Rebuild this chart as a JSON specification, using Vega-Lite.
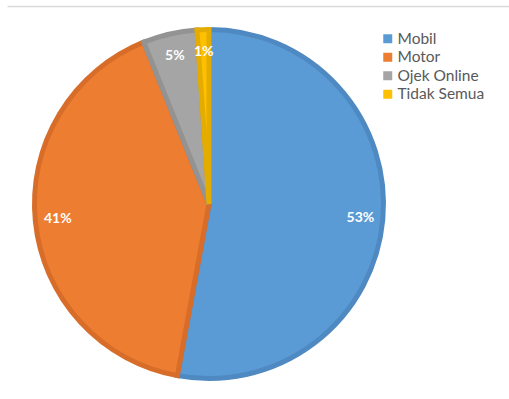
{
  "$schema": "https://vega.github.io/schema/vega-lite/v6.json",
  "width": 502,
  "height": 393,
  "padding": {"left": 7, "top": 6, "right": 0, "bottom": 0},
  "autosize": {"type": "none"},
  "background": "white",
  "config": {"view": {"stroke": null}},
  "data": {
    "values": [
      {"cat": "Mobil", "value": 52.9, "label": "53%"},
      {"cat": "Motor", "value": 41.0, "label": "41%"},
      {"cat": "Ojek Online", "value": 5.0, "label": "5%"},
      {"cat": "Tidak Semua", "value": 1.1, "label": "1%"}
    ]
  },
  "encoding": {
    "theta": {"field": "value", "type": "quantitative", "stack": true},
    "order": {"field": "cat", "type": "ordinal"},
    "x": {
      "datum": 202,
      "type": "quantitative",
      "scale": {"domain": [0, 502], "nice": false, "zero": false},
      "axis": {"orient": "top", "domainColor": "#d9d9d9", "domainWidth": 1.5, "ticks": false, "labels": false, "grid": false, "title": null}
    },
    "y": {
      "datum": 198,
      "type": "quantitative",
      "scale": {"domain": [0, 393], "nice": false, "zero": false, "reverse": true},
      "axis": null
    }
  },
  "layer": [
    {
      "mark": {"type": "arc", "outerRadius": 174.5, "strokeWidth": 5, "strokeJoin": "miter"},
      "encoding": {
        "color": {
          "field": "cat",
          "type": "nominal",
          "scale": {"domain": ["Mobil", "Motor", "Ojek Online", "Tidak Semua"], "range": ["#5B9BD5", "#ED7D31", "#A5A5A5", "#FFC000"]},
          "legend": {
            "orient": "none",
            "legendX": 373,
            "legendY": 25,
            "title": null,
            "symbolType": "square",
            "symbolSize": 81,
            "symbolStrokeWidth": 0,
            "labelFont": "Lato",
            "labelFontSize": 15.5,
            "labelColor": "#595959",
            "labelOffset": 2,
            "rowPadding": 1.5
          }
        },
        "stroke": {
          "field": "cat",
          "type": "nominal",
          "scale": {"domain": ["Mobil", "Motor", "Ojek Online", "Tidak Semua"], "range": ["#4F89C2", "#D76D29", "#939393", "#E5AC00"]},
          "legend": null
        }
      }
    },
    {
      "mark": {"type": "text", "radius": 152, "font": "Lato", "fontSize": 14, "fontWeight": "bold", "color": "white"},
      "encoding": {
        "text": {"field": "label", "type": "nominal"},
        "detail": {"field": "cat", "type": "nominal"}
      }
    }
  ]
}
